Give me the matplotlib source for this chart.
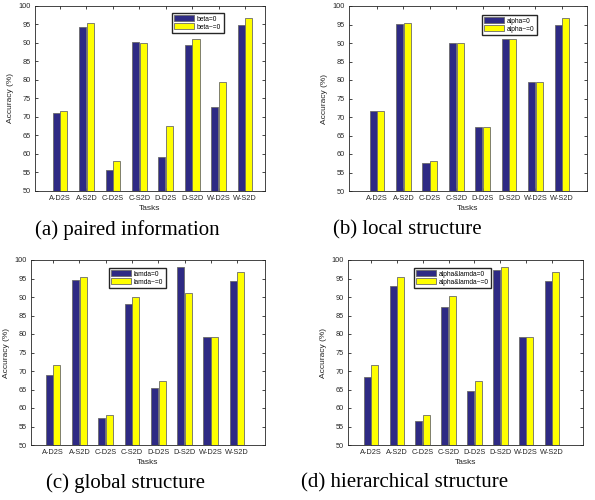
import numpy as np
import matplotlib.pyplot as plt

plt.rcParams['font.family'] = ['Liberation Sans', 'DejaVu Sans']

tasks = ['A-D2S', 'A-S2D', 'C-D2S', 'C-S2D', 'D-D2S', 'D-S2D', 'W-D2S', 'W-S2D']

# (a) paired information
beta_zero = [70.9, 94.3, 55.7, 90.3, 59.1, 89.3, 72.5, 94.8]
beta_nonzero = [71.6, 95.3, 58.1, 90.0, 67.4, 91.0, 79.3, 96.8]
# (b) local structure
alpha_zero = [71.6, 95.2, 57.7, 90.0, 67.3, 91.0, 79.4, 94.8]
alpha_nonzero = [71.6, 95.3, 58.0, 90.0, 67.3, 91.0, 79.4, 96.8]
# (c) global structure
lamda_zero = [68.9, 94.7, 57.2, 88.1, 65.5, 98.2, 79.3, 94.2]
lamda_nonzero = [71.6, 95.3, 58.1, 90.0, 67.3, 91.0, 79.3, 96.8]
# (d) hierarchical structure
both_zero = [68.3, 92.9, 56.4, 87.4, 64.6, 97.2, 79.3, 94.3]
both_nonzero = [71.6, 95.3, 58.1, 90.2, 67.3, 98.2, 79.3, 96.8]

yticks = list(range(50, 101, 5))

NAVY = '#2e2a84'
YELLOW = '#ffff00'

fig = plt.figure(figsize=(5.95, 5.0), dpi=100)

panels = [
    # rect, xlim, zero, nonzero, labels, legend anchor (fig px), caption, caption pos
    ([35/595, 1-190.7/500, 230/595, 185/500], (0.05, 8.76), beta_zero, beta_nonzero,
     ['beta=0', 'beta~=0'], (172, 13), '(a) paired information', (127, 230)),
    ([349/595, 1-191/500, 238/595, 185/500], (-0.06, 8.95), alpha_zero, alpha_nonzero,
     ['alpha=0', 'alpha~=0'], (482, 15), '(b) local structure', (407, 230)),
    ([31/595, 1-445/500, 234/595, 185/500], (0.16, 9.06), lamda_zero, lamda_nonzero,
     ['lamda=0', 'lamda~=0'], (109, 268), '(c) global structure', (125, 483)),
    ([348/595, 1-445/500, 235/595, 185/500], (0.11, 9.2), both_zero, both_nonzero,
     ['alpha&lamda=0', 'alpha&lamda~=0'], (414, 268), '(d) hierarchical structure', (405, 483)),
]

x = np.arange(1, len(tasks) + 1)
w = 0.27

for rect, xlim, zero, nonzero, labels, lpos, caption, cpos in panels:
    ax = fig.add_axes(rect)
    ax.bar(x - w/2 - 0.01, zero, w, color=NAVY, edgecolor='#6a6a6a', linewidth=0.6,
           label=labels[0], zorder=2)
    ax.bar(x + w/2 + 0.01, nonzero, w, color=YELLOW, edgecolor='#6a6a6a', linewidth=0.6,
           label=labels[1], zorder=2)
    ax.set_ylim(50, 100)
    ax.set_xlim(*xlim)
    ax.set_yticks(yticks)
    ax.set_xticks(x)
    ax.set_xticklabels(tasks)
    ax.tick_params(direction='in', length=2.5, width=0.6, labelsize=5.3,
                   top=True, right=True, colors='#262626', pad=3)
    for s in ax.spines.values():
        s.set_linewidth(0.6)
        s.set_color('#262626')
    ax.set_xlabel('Tasks', fontsize=6, color='#262626', labelpad=2)
    ax.set_ylabel('Accuracy (%)', fontsize=6, color='#262626', labelpad=3)
    ax.legend(loc='upper left', bbox_to_anchor=(lpos[0]/595, 1 - lpos[1]/500),
              bbox_transform=fig.transFigure, fontsize=4.8, frameon=True, fancybox=False,
              edgecolor='#262626', framealpha=1, handlelength=3.0, handleheight=1.0,
              handletextpad=0.4, borderpad=0.35, labelspacing=0.1, borderaxespad=0)
    fig.text(cpos[0]/595, 1 - cpos[1]/500, caption, ha='center', va='center',
             fontsize=15, family='Liberation Serif')

plt.savefig('out.png', dpi=100)
